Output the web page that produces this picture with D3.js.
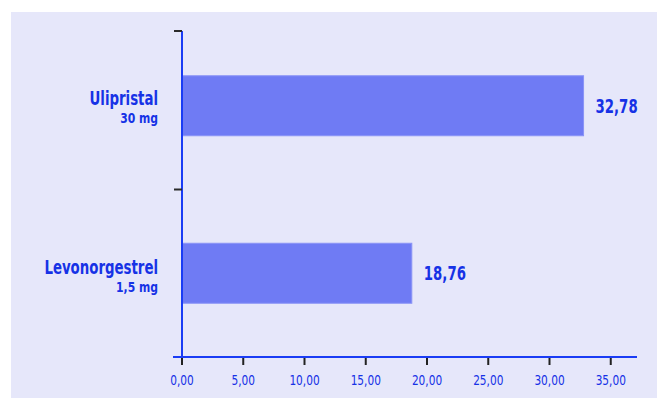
<!DOCTYPE html>
<html>
<head>
<meta charset="utf-8">
<script src="https://cdn.jsdelivr.net/npm/d3@7"></script>
<style>
  html, body { margin: 0; padding: 0; background: #ffffff; }
  svg { display: block; }
  text { font-family: "DejaVu Sans Condensed", "DejaVu Sans", sans-serif; font-stretch: condensed; }
</style>
</head>
<body>
<svg id="chart" width="657" height="398"></svg>
<script>
// Emergency contraception: values per product
const products = ["Ulipristal", "Levonorgestrel"];
const doses = ["30 mg", "1,5 mg"];
const values = [32.78, 18.76];
const xTicks = [0, 5, 10, 15, 20, 25, 30, 35];

const fmt = v => d3.format(".2f")(v).replace(".", ",");

const svg = d3.select("#chart");
const textBlue = "#1632e6";
const axisBlue = "#1a3cf5";
const barFill = "#6f7bf4";

// place a text at (tx, ty), squeezed horizontally to give a narrow face
function label(parent, tx, ty, str, opts) {
  const g = parent.append("g")
    .attr("transform", `translate(${tx},${ty}) scale(${opts.squeeze},1)`);
  return g.append("text")
    .attr("text-anchor", opts.anchor || "start")
    .attr("fill", textBlue)
    .attr("font-size", opts.size)
    .attr("font-weight", opts.weight || "normal")
    .text(str);
}

// panel background
svg.append("rect")
  .attr("x", 11).attr("y", 12)
  .attr("width", 657 - 11).attr("height", 398 - 12)
  .attr("fill", "#e6e7fa");

const x0 = 182, axisY = 357, axisTop = 31;
const x = d3.scaleLinear().domain([0, 36]).range([x0, x0 + 36 * 12.25]);
const y = d3.scaleBand().domain(products).range([22, axisY]);
const barH = 60;

// bars
svg.append("g").selectAll("rect")
  .data(products)
  .join("rect")
  .attr("x", x(0))
  .attr("y", d => y(d) + y.bandwidth() / 2 - barH / 2)
  .attr("width", (d, i) => x(values[i]) - x(0))
  .attr("height", barH)
  .attr("fill", barFill)
  .attr("stroke", "#8a94f6")
  .attr("stroke-width", 1);

// value labels
const vals = svg.append("g");
products.forEach((p, i) => {
  label(vals, x(values[i]) + 12, y(p) + y.bandwidth() / 2 + 7, fmt(values[i]),
    { size: 20, weight: "bold", squeeze: 0.74 });
});

// category labels
const cat = svg.append("g");
products.forEach((p, i) => {
  const cy = y(p) + y.bandwidth() / 2;
  label(cat, 158, cy - 1 + i * 2, p, { size: 19, weight: "bold", anchor: "end", squeeze: 0.78 });
  label(cat, 158, cy + 17 + i * 2, doses[i], { size: 14, weight: "bold", anchor: "end", squeeze: 0.86 });
});

// y axis line and category-boundary ticks
svg.append("line")
  .attr("x1", x0).attr("x2", x0)
  .attr("y1", axisTop).attr("y2", axisY)
  .attr("stroke", axisBlue).attr("stroke-width", 2);
[axisTop, y(products[1])].forEach(ty => {
  svg.append("line")
    .attr("x1", x0 - 8).attr("x2", x0)
    .attr("y1", ty).attr("y2", ty)
    .attr("stroke", "#2a2a2a").attr("stroke-width", 2);
});

// x axis
const xAxis = svg.append("g").attr("transform", `translate(0,${axisY})`);
xAxis.append("line")
  .attr("x1", 173).attr("x2", 637)
  .attr("stroke", axisBlue).attr("stroke-width", 2);
const tk = xAxis.selectAll("g.tick")
  .data(xTicks)
  .join("g")
  .attr("class", "tick")
  .attr("transform", d => `translate(${x(d)},0)`);
tk.append("line")
  .attr("y1", 1).attr("y2", 8)
  .attr("stroke", "#222").attr("stroke-width", 2);
tk.each(function (d) {
  label(d3.select(this), 0, 28, fmt(d), { size: 14, anchor: "middle", squeeze: 0.84 });
});
</script>
</body>
</html>
